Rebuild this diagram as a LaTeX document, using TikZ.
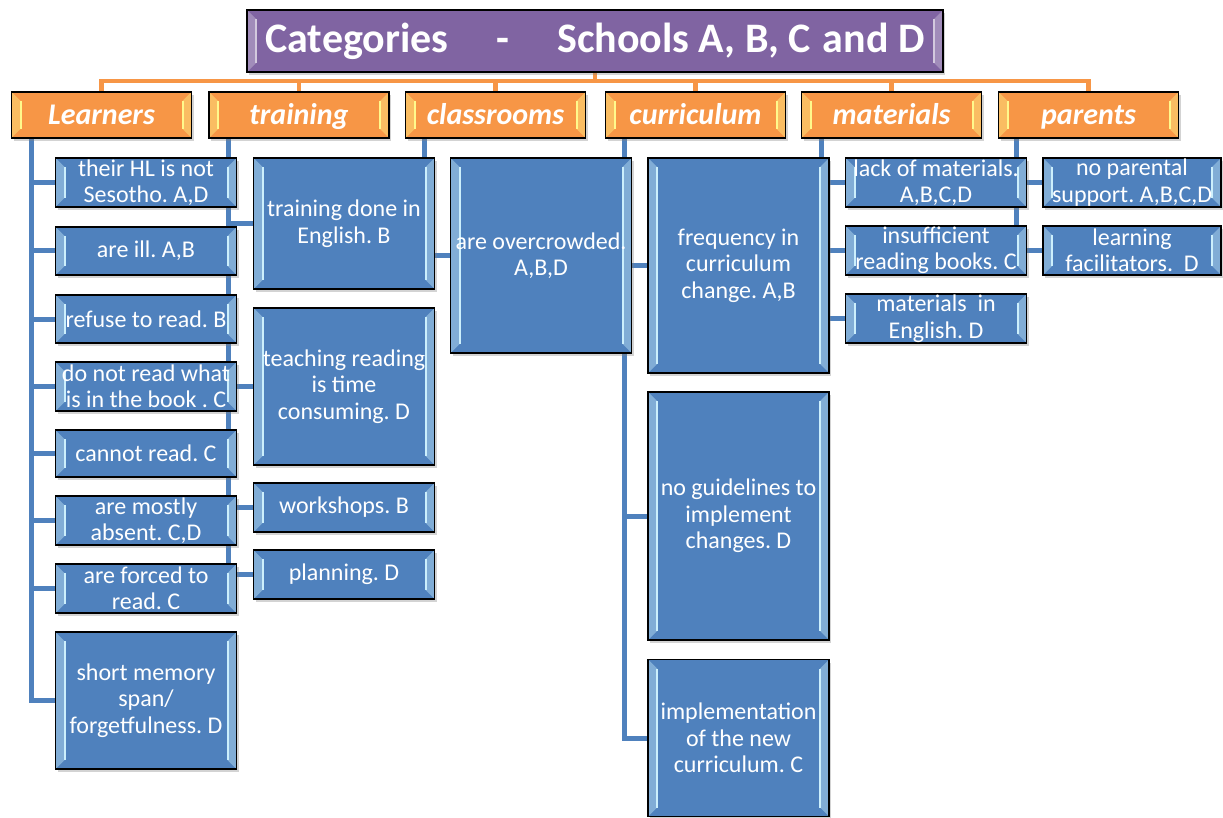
\documentclass[tikz,border=0pt]{standalone}
\usepackage{fontspec}
\setmainfont{Carlito}
\frenchspacing
\usetikzlibrary{shadows,backgrounds}
\definecolor{boxblue}{HTML}{4F81BD}
\definecolor{catorange}{HTML}{F79646}
\definecolor{titlepurple}{HTML}{8064A2}
\tikzset{bevel/.style={path picture={
		\fill[#1, opacity=.4] (path picture bounding box.north west) -- ++(9pt,-9pt) -- ([shift={(9pt,9pt)}]path picture bounding box.south west) -- (path picture bounding box.south west) -- cycle;
		\fill[#1, opacity=.4] (path picture bounding box.north east) -- ++(-9pt,-9pt) -- ([shift={(-9pt,9pt)}]path picture bounding box.south east) -- (path picture bounding box.south east) -- cycle;
		\draw[#1, line width=2pt] ([shift={(9pt,-9pt)}]path picture bounding box.north west) -- ([shift={(9pt,9pt)}]path picture bounding box.south west);
		\draw[#1, line width=2pt] ([shift={(-9pt,-9pt)}]path picture bounding box.north east) -- ([shift={(-9pt,9pt)}]path picture bounding box.south east);
	}},
	heading/.style={draw=black, line width=1.6pt, fill=titlepurple, text=white, inner sep=0pt, bevel=titlepurple!35!white,
		drop shadow={opacity=.35, shadow xshift=2pt, shadow yshift=-3pt}, font=\fontsize{42}{50}\selectfont\bfseries},
	category/.style={draw=black, line width=1.6pt, fill=catorange, text=white, inner sep=0pt, minimum width=180pt, minimum height=46pt,
		text height=23pt, text depth=4pt,
		bevel=yellow!45!white, drop shadow={opacity=.35, shadow xshift=2pt, shadow yshift=-3pt}, font=\fontsize{30}{34}\selectfont\bfseries\itshape},
	leaf/.style={draw=black, line width=1.6pt, fill=boxblue, text=white, inner sep=0pt, align=center, minimum width=181pt,
		bevel=cyan!20!white, drop shadow={opacity=.35, shadow xshift=2pt, shadow yshift=-3pt}, font=\fontsize{24}{26.5}\selectfont},
	bus/.style={catorange, line width=4.5pt},
	link/.style={boxblue, line width=5pt}
}

\begin{document}
\begin{tikzpicture}[x=1pt, y=-1pt]
	\useasboundingbox (0,0) rectangle (1223,818);
	\node[heading, minimum width=696pt, minimum height=62pt] (title) at (595,41) {Categories\hspace{48pt}-\hspace{48pt}Schools A, B, C\hspace{12pt}and D};
	
	\node[category] (learn) at (101.5,115) {Learners};
	\node[category] (train) at (299,115) {training};
	\node[category] (class) at (495.5,115) {classrooms};
	\node[category] (curr) at (695.5,115) {curriculum};
	\node[category] (mat) at (891.5,115) {materials};
	\node[category] (par) at (1088.5,115) {parents};
	
	% learners
	\node[leaf, minimum height=49pt] (l1) at (146,182.5) {their HL is not\\Sesotho. A,D};
	\node[leaf, minimum height=48pt] (l2) at (146,251) {are ill. A,B};
	\node[leaf, minimum height=48pt] (l3) at (146,319) {refuse to read. B};
	\node[leaf, minimum height=49pt] (l4) at (146,386.5) {do not read what\\is in the book . C};
	\node[leaf, minimum height=47pt] (l5) at (146,453.5) {cannot read. C};
	\node[leaf, minimum height=49pt] (l6) at (146,520.5) {are mostly\\absent. C,D};
	\node[leaf, minimum height=49pt] (l7) at (146,588.5) {are forced to\\read. C};
	\node[leaf, minimum height=137pt] (l8) at (146,700.5) {short memory\\span/\\forgetfulness. D};
	
	% training
	\node[leaf, minimum height=131pt] (t1) at (344,223.5) {training done in\\English. B};
	\node[leaf, minimum height=157pt] (t2) at (344,386.5) {teaching reading\\is time\\consuming. D};
	\node[leaf, minimum height=49pt] (t3) at (344,507.5) {workshops. B};
	\node[leaf, minimum height=49pt] (t4) at (344,574.5) {planning. D};
	
	% classrooms
	\node[leaf, minimum height=195pt] (c1) at (541,255.5) {are overcrowded.\\A,B,D};
	
	% curriculum
	\node[leaf, minimum height=215pt] (k1) at (738.5,265.5) {frequency in\\curriculum\\change. A,B};
	\node[leaf, minimum height=248pt] (k2) at (738.5,516) {no guidelines to\\implement\\changes. D};
	\node[leaf, minimum height=157pt] (k3) at (738.5,738) {implementation\\of the new\\curriculum. C};
	
	% materials
	\node[leaf, minimum height=49pt] (m1) at (936,182.5) {lack of materials.\\A,B,C,D};
	\node[leaf, minimum height=49pt] (m2) at (936,250.5) {insufficient\\reading books. C};
	\node[leaf, minimum height=49pt] (m3) at (936,318.5) {materials\ \ in\\English. D};
	
	% parents
	\node[leaf, minimum width=178pt, minimum height=49pt] (p1) at (1132,182.5) {no parental\\support. A,B,C,D};
	\node[leaf, minimum width=178pt, minimum height=49pt] (p2) at (1132,250.5) {learning\\facilitators.\ \ D};
	
	\begin{scope}[on background layer]
		% draw lines
		\draw[bus] (title.south) -- ++(0,8) -| (learn.north);
		\draw[bus] (title.south) -- ++(0,8) -| (train.north);
		\draw[bus] (title.south) -- ++(0,8) -| (class.north);
		\draw[bus] (title.south) -- ++(0,8) -| (curr.north);
		\draw[bus] (title.south) -- ++(0,8) -| (mat.north);
		\draw[bus] (title.south) -- ++(0,8) -| (par.north);
		
		\draw[link] ([xshift=21pt]learn.south west) |- (l1.west);
		\draw[link] ([xshift=21pt]learn.south west) |- (l2.west);
		\draw[link] ([xshift=21pt]learn.south west) |- (l3.west);
		\draw[link] ([xshift=21pt]learn.south west) |- (l4.west);
		\draw[link] ([xshift=21pt]learn.south west) |- (l5.west);
		\draw[link] ([xshift=21pt]learn.south west) |- (l6.west);
		\draw[link] ([xshift=21pt]learn.south west) |- (l7.west);
		\draw[link] ([xshift=21pt]learn.south west) |- (l8.west);
		
		\draw[link] ([xshift=20pt]train.south west) |- (t1.west);
		\draw[link] ([xshift=20pt]train.south west) |- (t2.west);
		\draw[link] ([xshift=20pt]train.south west) |- (t3.west);
		\draw[link] ([xshift=20pt]train.south west) |- (t4.west);
		
		\draw[link] ([xshift=20pt]class.south west) |- (c1.west);
		
		\draw[link] ([xshift=20pt]curr.south west) |- (k1.west);
		\draw[link] ([xshift=20pt]curr.south west) |- (k2.west);
		\draw[link] ([xshift=20pt]curr.south west) |- (k3.west);
		
		\draw[link] ([xshift=21pt]mat.south west) |- (m1.west);
		\draw[link] ([xshift=21pt]mat.south west) |- (m2.west);
		\draw[link] ([xshift=21pt]mat.south west) |- (m3.west);
		
		\draw[link] ([xshift=19pt]par.south west) |- (p1.west);
		\draw[link] ([xshift=19pt]par.south west) |- (p2.west);
	\end{scope}
\end{tikzpicture}
\end{document}
